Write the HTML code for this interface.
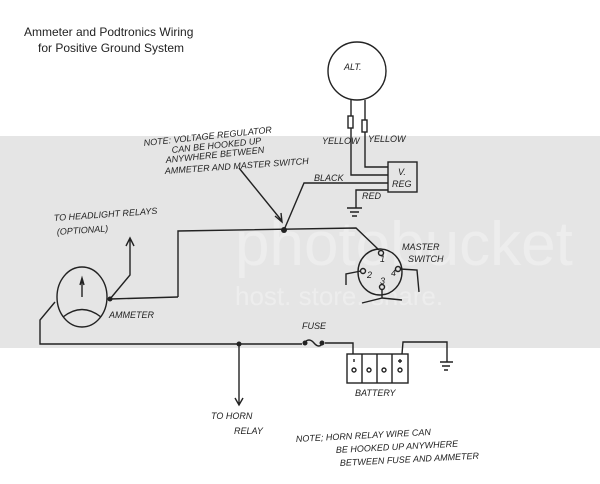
<!DOCTYPE html>
<html><head><meta charset="utf-8"><style>
html,body{margin:0;padding:0;background:#fff;}
svg{display:block;}
.h{font-family:"Liberation Sans",sans-serif;font-size:9px;fill:#222;font-style:italic;}
</style></head><body>
<svg width="600" height="484" viewBox="0 0 600 484" xmlns="http://www.w3.org/2000/svg">
<rect x="0" y="0" width="600" height="484" fill="#fff"/>
<rect x="0" y="136" width="600" height="212" fill="#e5e5e5"/>
<text x="235" y="265" font-family="Liberation Sans,sans-serif" font-size="62" fill="#ededed">photobucket</text>
<text x="235" y="305" font-family="Liberation Sans,sans-serif" font-size="26" fill="#ededed">host. store. share.</text>
<text x="24" y="36" font-family="Liberation Sans,sans-serif" font-size="12" fill="#222">Ammeter and Podtronics Wiring</text>
<text x="38" y="52" font-family="Liberation Sans,sans-serif" font-size="12" fill="#222">for Positive Ground System</text>
<g stroke="#222" stroke-width="1.4" fill="none">
<circle cx="357" cy="71" r="29"/>
<path d="M351 100 V175 H388 M365 100 V167 H388"/>
<rect x="348" y="116" width="5" height="12" fill="#fff"/>
<rect x="362" y="120" width="5" height="12" fill="#fff"/>
<rect x="388" y="162" width="29" height="30"/>
<path d="M388 190 H356 V208 M347 208 H362 M350 212 H359 M352 216 H357"/>
<path d="M388 183 H304 L284 230"/>
<path d="M178 297 V231 L356 228 L379 250"/>
<path d="M239 168 L282 221 M275 216 L282 222 L281 213"/>
<ellipse cx="380" cy="272" rx="22" ry="23"/>
<circle cx="381" cy="253" r="2.5"/><circle cx="363" cy="271" r="2.5"/>
<circle cx="398" cy="269" r="2.5"/><circle cx="382" cy="287" r="2.5"/>
<path d="M361 271 L346 274 V285 M400 269 L417 270 L419 292 M382 289 V298 L362 303 M382 298 L402 300"/>
<ellipse cx="82" cy="297" rx="25" ry="30"/>
<path d="M82 297 V280 M80 285 L82 278 L84 285 M63 317 Q82 302 101 317"/>
<path d="M110 299 L178 297"/>
<path d="M110 299 L130 275 V238 M126 246 L130 238 L134 246"/>
<path d="M55 302 L40 320 V344 H302 M325 343 H353 V354"/>
<path d="M304 343 Q309 337 314 343 Q319 349 323 343"/>
<rect x="347" y="354" width="61" height="29"/>
<path d="M362 354 V383 M377 354 V383 M392 354 V383"/>
<circle cx="354" cy="370" r="2"/><circle cx="369" cy="370" r="2"/><circle cx="384" cy="370" r="2"/><circle cx="400" cy="370" r="2"/>
<path d="M354 359 V362 M398 361 H402 M400 359 V363"/>
<path d="M402 354 L403 342 H447 V362 M440 362 H453 M442 366 H450 M444 370 H448"/>
<path d="M239 344 V404 M235 398 L239 405 L243 398"/>
</g>
<circle cx="284" cy="230" r="3" fill="#222"/>
<circle cx="110" cy="299" r="2.5" fill="#222"/>
<circle cx="239" cy="344" r="2.5" fill="#222"/>
<circle cx="305" cy="343" r="2.5" fill="#222"/><circle cx="322" cy="343" r="2.5" fill="#222"/>
<text class="h" x="344" y="70">ALT.</text>
<text class="h" x="322" y="144" font-size="7">YELLOW</text>
<text class="h" x="368" y="142" font-size="7">YELLOW</text>
<text class="h" x="398" y="175">V.</text>
<text class="h" x="392" y="187">REG</text>
<text class="h" x="314" y="181" font-size="7">BLACK</text>
<text class="h" x="362" y="199" font-size="7">RED</text>
<text class="h" x="144" y="146" font-size="8" transform="rotate(-6 144 146)">NOTE: VOLTAGE REGULATOR</text>
<text class="h" x="172" y="153" font-size="8" transform="rotate(-6 172 153)">CAN BE HOOKED UP</text>
<text class="h" x="166" y="163" font-size="8" transform="rotate(-6 166 163)">ANYWHERE BETWEEN</text>
<text class="h" x="165" y="174" font-size="8" transform="rotate(-4 165 174)">AMMETER AND MASTER SWITCH</text>
<text class="h" x="54" y="221" font-size="8" transform="rotate(-4 54 221)">TO HEADLIGHT RELAYS</text>
<text class="h" x="57" y="235" font-size="8" transform="rotate(-4 57 235)">(OPTIONAL)</text>
<text class="h" x="402" y="250" font-size="8">MASTER</text>
<text class="h" x="408" y="262" font-size="8">SWITCH</text>
<text class="h" x="380" y="262" font-size="8">1</text>
<text class="h" x="367" y="278" font-size="8">2</text>
<text class="h" x="380" y="284" font-size="8">3</text>
<text class="h" x="391" y="276" font-size="8">4</text>
<text class="h" x="109" y="318" font-size="8">AMMETER</text>
<text class="h" x="302" y="329" font-size="8">FUSE</text>
<text class="h" x="355" y="396" font-size="8">BATTERY</text>
<text class="h" x="211" y="419">TO HORN</text>
<text class="h" x="234" y="434">RELAY</text>
<text class="h" x="296" y="442" transform="rotate(-3 296 442)">NOTE; HORN RELAY WIRE CAN</text>
<text class="h" x="336" y="453" transform="rotate(-3 336 453)">BE HOOKED UP ANYWHERE</text>
<text class="h" x="340" y="466" transform="rotate(-3 340 466)">BETWEEN FUSE AND AMMETER</text>
</svg>
</body></html>
